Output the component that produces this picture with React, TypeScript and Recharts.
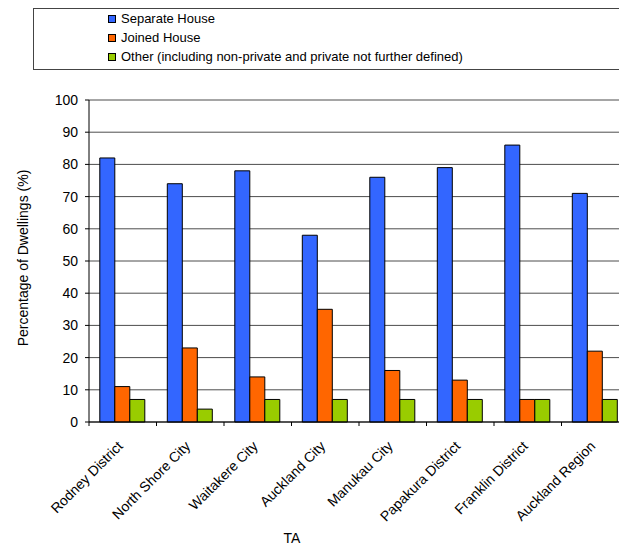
import { Bar, BarChart, CartesianGrid, Label, XAxis, YAxis } from "recharts";

const AREAS = [
  "Rodney District",
  "North Shore City",
  "Waitakere City",
  "Auckland City",
  "Manukau City",
  "Papakura District",
  "Franklin District",
  "Auckland Region",
];

const SEPARATE_HOUSE = [82, 74, 78, 58, 76, 79, 86, 71];
const JOINED_HOUSE = [11, 23, 14, 35, 16, 13, 7, 22];
const OTHER = [7, 4, 7, 7, 7, 7, 7, 7];

const Y_TICKS = [0, 10, 20, 30, 40, 50, 60, 70, 80, 90, 100];

const SERIES = [
  { key: "separate", name: "Separate House", color: "#3366FF" },
  { key: "joined", name: "Joined House", color: "#FF6600" },
  {
    key: "other",
    name: "Other (including non-private and private not further defined)",
    color: "#99CC00",
  },
];

const data = AREAS.map((name, i) => ({
  name,
  separate: SEPARATE_HOUSE[i],
  joined: JOINED_HOUSE[i],
  other: OTHER[i],
}));

const FONT = "'Liberation Sans', Arial, Helvetica, sans-serif";
const AXIS_FONT_SIZE = 14;
const CHART_W = 640;
const CHART_H = 549;
const MARGIN = { top: 100, right: 11, left: 0, bottom: 0 };
const Y_AXIS_W = 89;
const BAND = (CHART_W - MARGIN.right - MARGIN.left - Y_AXIS_W) / AREAS.length;

// Category label rotated 45deg, plus a tick mark on the left edge of each band
function AreaTick(props: any) {
  const { x, y, payload } = props;
  const tx = x + 1;
  const ty = y + 25;
  return (
    <g>
      <line x1={x - BAND / 2} y1={y} x2={x - BAND / 2} y2={y + 4} stroke="#000" />
      <text
        x={tx}
        y={ty}
        transform={`rotate(-45 ${tx} ${ty})`}
        textAnchor="end"
        fontSize={AXIS_FONT_SIZE}
        fontFamily={FONT}
        fill="#000"
      >
        {payload.value}
      </text>
    </g>
  );
}

function YTitle(props: any) {
  const { viewBox } = props;
  const cx = viewBox.x + 27.5;
  const cy = viewBox.y + viewBox.height / 2 - 3;
  return (
    <text
      x={cx}
      y={cy}
      transform={`rotate(-90 ${cx} ${cy})`}
      textAnchor="middle"
      fontSize={AXIS_FONT_SIZE}
      fontFamily={FONT}
      fill="#000"
    >
      Percentage of Dwellings (%)
    </text>
  );
}

function XTitle(props: any) {
  const { viewBox } = props;
  const cx = viewBox.x + viewBox.width / 2 - 67;
  const cy = viewBox.y + viewBox.height - 6;
  return (
    <text
      x={cx}
      y={cy}
      textAnchor="middle"
      fontSize={AXIS_FONT_SIZE}
      fontFamily={FONT}
      fill="#000"
    >
      TA
    </text>
  );
}

function LegendBox() {
  return (
    <div
      style={{
        position: "absolute",
        left: 33,
        top: 8,
        width: 620,
        height: 60,
        border: "1px solid #444",
        background: "#fff",
        fontFamily: FONT,
        fontSize: 13,
        color: "#000",
        zIndex: 2,
      }}
    >
      {SERIES.map((s, i) => (
        <div
          key={s.key}
          style={{
            position: "absolute",
            left: 74,
            top: i * 19,
            height: 19,
            display: "flex",
            alignItems: "center",
            whiteSpace: "nowrap",
          }}
        >
          <span
            style={{
              width: 6,
              height: 6,
              border: "1px solid #000",
              background: s.color,
              marginRight: 5,
            }}
          />
          <span>{s.name}</span>
        </div>
      ))}
    </div>
  );
}

export default function App() {
  return (
    <div
      style={{
        position: "absolute",
        left: 0,
        top: 0,
        width: 619,
        height: 549,
        overflow: "hidden",
        background: "#fff",
      }}
    >
      <LegendBox />
      <BarChart
        width={CHART_W}
        height={CHART_H}
        data={data}
        margin={MARGIN}
        barCategoryGap="16%"
        barGap={0}
      >
        <CartesianGrid vertical={false} stroke="#4d4d4d" />
        <XAxis
          dataKey="name"
          height={127}
          interval={0}
          tickLine={false}
          tickSize={0}
          tickMargin={0}
          axisLine={{ stroke: "#000" }}
          tick={<AreaTick />}
        >
          <Label content={<XTitle />} />
        </XAxis>
        <YAxis
          width={Y_AXIS_W}
          domain={[0, 100]}
          ticks={Y_TICKS}
          interval={0}
          tickSize={4}
          tickMargin={7}
          axisLine={{ stroke: "#000" }}
          tickLine={{ stroke: "#000" }}
          tick={{ fill: "#000", fontSize: AXIS_FONT_SIZE, fontFamily: FONT }}
        >
          <Label content={<YTitle />} />
        </YAxis>
        {SERIES.map((s) => (
          <Bar
            key={s.key}
            dataKey={s.key}
            name={s.name}
            fill={s.color}
            stroke="#000"
            strokeWidth={1}
            isAnimationActive={false}
          />
        ))}
      </BarChart>
    </div>
  );
}
